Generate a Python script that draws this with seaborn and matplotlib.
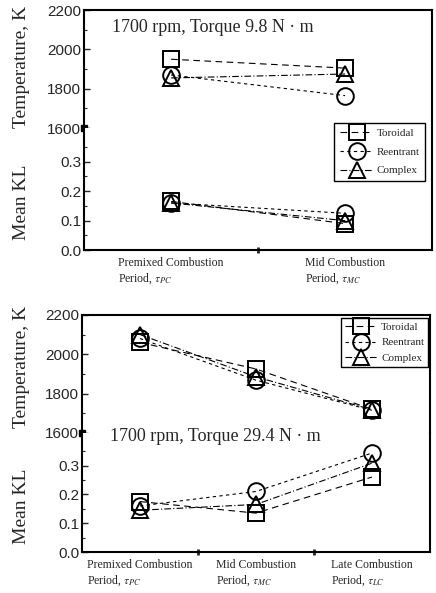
import matplotlib
matplotlib.use('Agg')
import matplotlib.pyplot as plt
import matplotlib.lines as mlines
import pandas as pd
import seaborn as sns

sns.set_style('ticks')
plt.rcParams['font.family'] = ['Liberation Serif', 'DejaVu Serif']
plt.rcParams['mathtext.fontset'] = 'stix'

# Adatok
designs = ['Toroidal', 'Reentrant', 'Complex']

# 1700 rpm, 9.8 N m
periods_low = ['Premixed Combustion\nPeriod, $\\tau_{PC}$',
               'Mid Combustion\nPeriod, $\\tau_{MC}$']
temp_low = {'Toroidal': [1950, 1905], 'Reentrant': [1870, 1765], 'Complex': [1855, 1875]}
kl_low = {'Toroidal': [0.165, 0.09], 'Reentrant': [0.16, 0.125], 'Complex': [0.16, 0.10]}

# 1700 rpm, 29.4 N m
periods_high = ['Premixed Combustion\nPeriod, $\\tau_{PC}$',
                'Mid Combustion\nPeriod, $\\tau_{MC}$',
                'Late Combustion\nPeriod, $\\tau_{LC}$']
temp_high = {'Toroidal': [2060, 1925, 1720], 'Reentrant': [2080, 1868, 1715], 'Complex': [2100, 1885, 1718]}
kl_high = {'Toroidal': [0.175, 0.135, 0.26], 'Reentrant': [0.16, 0.21, 0.343], 'Complex': [0.145, 0.165, 0.308]}

temp_ticks = [1600, 1800, 2000, 2200]
kl_ticks = [0.0, 0.1, 0.2, 0.3]

marker_map = {'Toroidal': 's', 'Reentrant': 'o', 'Complex': '^'}
dash_map = {'Toroidal': (6, 4), 'Reentrant': (3, 3), 'Complex': (6, 2, 1, 2)}
line_kw = dict(color='black', lw=0.8, ms=12, mfc='none', mec='black', mew=1.4)


def long_table(periods, temps, kls):
    rows = []
    for d in designs:
        for i, p in enumerate(periods):
            rows.append({'period': p, 'design': d, 'T': temps[d][i], 'KL': kls[d][i]})
    return pd.DataFrame(rows)


def panel(fig, box_top, box_mid, box_bot, periods, temps, kls):
    left, right = box_top[0], box_top[1]
    ax_t = fig.add_axes([left, box_mid, right - left, box_top[2] - box_mid])
    ax_k = fig.add_axes([left, box_bot, right - left, box_mid - box_bot])
    df = long_table(periods, temps, kls)
    sns.lineplot(data=df, x='period', y='T', style='design', markers=marker_map,
                 dashes=dash_map, sort=False, legend=False, ax=ax_t, **line_kw)
    sns.lineplot(data=df, x='period', y='KL', style='design', markers=marker_map,
                 dashes=dash_map, sort=False, legend=False, ax=ax_k, **line_kw)
    n = len(periods)
    for ax in (ax_t, ax_k):
        ax.set_xlim(-0.5, n - 0.5)
        ax.set_xlabel('')
        ax.set_ylabel('')
        for s in ax.spines.values():
            s.set_linewidth(1.5)
            s.set_color('black')
        ax.tick_params(axis='y', direction='in', length=4, width=1, labelsize=11,
                       labelfontfamily='Liberation Sans', pad=2)
        ax.tick_params(axis='y', which='minor', direction='in', length=2.5, width=0.8)
    ax_t.spines['bottom'].set_visible(False)
    ax_k.spines['top'].set_visible(False)
    ax_t.set_ylim(1600, 2200)
    ax_t.set_yticks(temp_ticks)
    ax_t.set_yticks([1700, 1900, 2100], minor=True)
    ax_t.tick_params(axis='x', bottom=False, labelbottom=False)
    ax_k.set_ylim(0, 0.413)
    ax_k.set_yticks(kl_ticks, labels=[f'{v:.1f}' for v in kl_ticks])
    ax_k.set_yticks([0.05, 0.15, 0.25, 0.35], minor=True)
    ax_k.set_xticks(range(n), labels=periods)
    ax_k.set_xticks([i + 0.5 for i in range(n - 1)], minor=True)
    ax_k.tick_params(axis='x', which='major', length=0, labelsize=8.5, pad=5)
    ax_k.tick_params(axis='x', which='minor', direction='inout', length=5, width=2)
    for lab in ax_k.get_xticklabels():
        lab.set_multialignment('left')
    # tengelytörés jele
    ax_t.plot([0], [0], 's', color='black', ms=4, transform=ax_t.transAxes, clip_on=False)
    return ax_t, ax_k


fig = plt.figure(figsize=(4.36, 5.93), dpi=100)

# felső diagram
panel(fig, (0.193, 0.991, 0.983), 0.784, 0.578, periods_low, temp_low, kl_low)
# alsó diagram
panel(fig, (0.188, 0.986, 0.469), 0.270, 0.069, periods_high, temp_high, kl_high)

fig.text(0.05, 0.887, 'Temperature, K', rotation=90, ha='center', va='center', fontsize=14)
fig.text(0.05, 0.659, 'Mean KL', rotation=90, ha='center', va='center', fontsize=14)
fig.text(0.05, 0.381, 'Temperature, K', rotation=90, ha='center', va='center', fontsize=14)
fig.text(0.05, 0.147, 'Mean KL', rotation=90, ha='center', va='center', fontsize=14)

fig.text(0.257, 0.954, '1700 rpm, Torque 9.8 N · m', ha='left', va='center', fontsize=13)
fig.text(0.252, 0.264, '1700 rpm, Torque 29.4 N · m', ha='left', va='center', fontsize=13)

handles = [mlines.Line2D([], [], linestyle=(0, dash_map[d]), marker=marker_map[d], **line_kw)
           for d in designs]
leg_kw = dict(fontsize=8, frameon=True, fancybox=False, framealpha=1, edgecolor='black',
              handlelength=3.0, handletextpad=0.3, labelspacing=0.8, borderpad=0.5,
              borderaxespad=0)
lg1 = fig.legend(handles, designs, loc='upper right', bbox_to_anchor=(0.975, 0.793), **leg_kw)
lg2 = fig.legend(handles, designs, loc='upper right', bbox_to_anchor=(0.982, 0.464),
                 **{**leg_kw, 'labelspacing': 0.55, 'borderpad': 0.35})
for lg in (lg1, lg2):
    lg.get_frame().set_linewidth(1.0)

plt.savefig('out.png', dpi=100)
